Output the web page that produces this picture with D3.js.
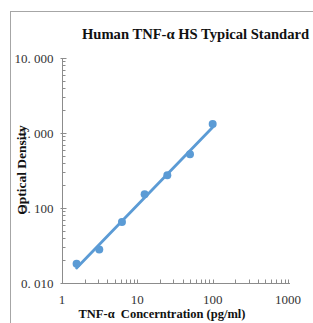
<!DOCTYPE html>
<html>
<head>
<meta charset="utf-8">
<script src="https://cdn.jsdelivr.net/npm/d3@7"></script>
<style>
  body { margin: 0; background: #fff; }
  text { font-family: "Liberation Serif", "Times New Roman", serif; }
</style>
</head>
<body>
<div id="chart"></div>
<script>
// standard curve data
var concentrations = [1.5625, 3.125, 6.25, 12.5, 25, 50, 100];
var opticalDensity = [0.018, 0.028, 0.065, 0.152, 0.273, 0.52, 1.32];
var xTickValues = [1, 10, 100, 1000];
var yTickValues = [0.01, 0.1, 1, 10];

var width = 313, height = 323;
var blue = "#5b9bd5", axisGray = "#8c8c8c";

var svg = d3.select("#chart")
  .append("svg")
  .attr("width", width)
  .attr("height", height);

// outer chart frame (cropped by the window)
svg.append("rect")
   .attr("x", 10.5)
   .attr("y", 11.5)
   .attr("width", 400)
   .attr("height", 400)
   .attr("fill", "none")
   .attr("stroke", "#a6a6a6");

var x = d3.scaleLog().domain([1, 1000]).range([62, 288]);
var y = d3.scaleLog().domain([0.01, 10]).range([283, 58]);

function minorValues(lo, hi) {
  var out = [];
  for (var d = lo; d < hi; d *= 10)
    for (var k = 2; k <= 9; k++) out.push(d * k);
  return out;
}

// y axis
var yAxis = svg.append("g").attr("transform", "translate(62.5,0)");
yAxis.append("line")
  .attr("y1", y(10)).attr("y2", y(0.01))
  .attr("stroke", axisGray);
yAxis.selectAll(".minor")
  .data(minorValues(0.01, 10))
  .enter().append("line")
  .attr("x1", 0).attr("x2", 3)
  .attr("y1", function(d) { return Math.round(y(d)) + 0.5; })
  .attr("y2", function(d) { return Math.round(y(d)) + 0.5; })
  .attr("stroke", axisGray);
yAxis.selectAll(".major")
  .data(yTickValues)
  .enter().append("line")
  .attr("x1", -2).attr("x2", 4)
  .attr("y1", function(d) { return Math.round(y(d)) + 0.5; })
  .attr("y2", function(d) { return Math.round(y(d)) + 0.5; })
  .attr("stroke", axisGray);
yAxis.selectAll(".label")
  .data(yTickValues)
  .enter().append("text")
  .attr("x", -9)
  .attr("y", function(d) { return y(d) + 4.5; })
  .attr("text-anchor", "end")
  .style("font-size", "13px")
  .style("fill", "#333")
  .text(function(d) { return d3.format(".3f")(d).replace(".", ". "); });

// x axis
var xAxis = svg.append("g").attr("transform", "translate(0,283.5)");
xAxis.append("line")
  .attr("x1", x(1)).attr("x2", 290)
  .attr("stroke", axisGray);
xAxis.selectAll(".minor")
  .data(minorValues(1, 1000).concat(xTickValues.slice(1)))
  .enter().append("line")
  .attr("x1", function(d) { return Math.round(x(d)) + 0.5; })
  .attr("x2", function(d) { return Math.round(x(d)) + 0.5; })
  .attr("y1", 0).attr("y2", -4)
  .attr("stroke", axisGray);
xAxis.selectAll(".label")
  .data(xTickValues)
  .enter().append("text")
  .attr("x", function(d) { return x(d); })
  .attr("y", 20)
  .attr("text-anchor", "middle")
  .style("font-size", "13px")
  .style("fill", "#333")
  .text(function(d) { return d; });

// log-log regression line through the standards
var lx = concentrations.map(Math.log10), ly = opticalDensity.map(Math.log10);
var mx = d3.mean(lx), my = d3.mean(ly);
var slope = d3.sum(lx, function(v, i) { return (v - mx) * (ly[i] - my); }) /
            d3.sum(lx, function(v) { return (v - mx) * (v - mx); });
var icpt = my - slope * mx;
var fitEnds = [d3.min(concentrations), d3.max(concentrations)];

svg.append("path")
  .datum(fitEnds)
  .attr("fill", "none")
  .attr("stroke", blue)
  .attr("stroke-width", 2.8)
  .attr("stroke-linecap", "round")
  .attr("d", d3.line()
    .x(function(d) { return x(d); })
    .y(function(d) { return y(Math.pow(10, icpt + slope * Math.log10(d))); }));

svg.selectAll(".pt")
  .data(concentrations)
  .enter().append("circle")
  .attr("cx", function(d) { return x(d); })
  .attr("cy", function(d, i) { return y(opticalDensity[i]); })
  .attr("r", 4)
  .attr("fill", blue);

// titles
svg.append("text")
  .attr("x", 82)
  .attr("y", 39)
  .style("font-size", "14.6px")
  .style("font-weight", "bold")
  .style("fill", "#111")
  .text("Human TNF-\u03b1 HS Typical Standard");

svg.append("text")
  .attr("transform", "translate(26,170) rotate(-90)")
  .attr("text-anchor", "middle")
  .style("font-size", "13.5px")
  .style("font-weight", "bold")
  .style("fill", "#111")
  .text("Optical Density");

svg.append("text")
  .attr("x", 162)
  .attr("y", 318)
  .attr("text-anchor", "middle")
  .attr("xml:space", "preserve")
  .style("white-space", "pre")
  .style("font-size", "12.5px")
  .style("font-weight", "bold")
  .style("fill", "#111")
  .text("TNF-\u03b1  Concerntration (pg/ml)");
</script>
</body>
</html>
